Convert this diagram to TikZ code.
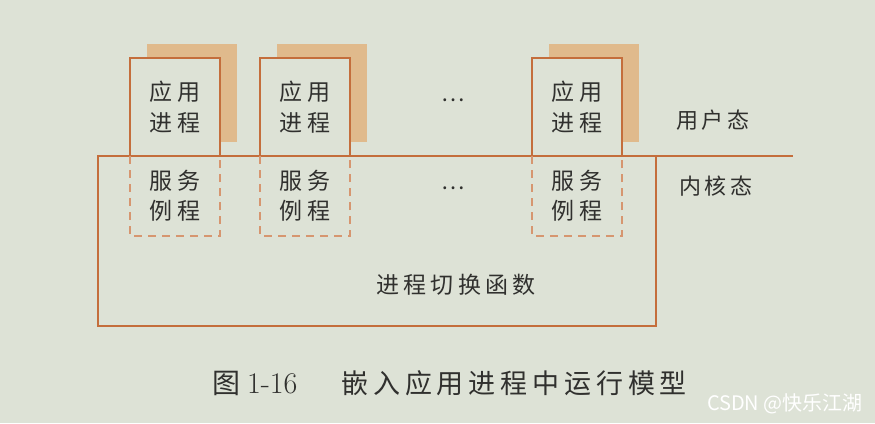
\documentclass[tikz,border=0pt]{standalone}
\usepackage{fontspec}
\newfontfamily\cjk[LetterSpace=18]{Noto Sans CJK SC}
\newfontfamily\cjkplain{Noto Sans CJK SC}
\usepackage{tikz}
\usetikzlibrary{positioning}
\usetikzlibrary{shadows}
\definecolor{paper}{RGB}{221,226,214}
\definecolor{rule}{RGB}{196,110,60}
\definecolor{dashrule}{RGB}{214,150,112}
\definecolor{shade}{RGB}{224,186,140}
\definecolor{ink}{RGB}{48,48,46}

\begin{document}
\begin{tikzpicture}[x=1pt,y=-1pt,outer sep=0pt,
    appbox/.style={draw=rule,line width=1.6pt,fill=paper,minimum width=90pt,minimum height=98pt,
        inner sep=0pt,align=center,text=ink,font=\cjk\fontsize{23}{31}\selectfont,
        drop shadow={shadow xshift=17pt,shadow yshift=14pt,fill=shade,opacity=1}},
    svcbox/.style={minimum width=90pt,minimum height=80pt,inner sep=0pt,align=center,
        text=ink,font=\cjk\fontsize{23}{30}\selectfont},
    dashline/.style={draw=dashrule,line width=1.5pt,dash pattern=on 8pt off 6pt},
    solidline/.style={draw=rule,line width=1.6pt},
    lbl/.style={text=ink,font=\cjk\fontsize{22}{26}\selectfont}]
        % Paper
        \useasboundingbox (0,0) rectangle (875,423);
        \fill[paper] (0,0) rectangle (875,423);

        % Kernel box and the user/kernel boundary
        \node[solidline,minimum width=558pt,minimum height=170pt] (kernel) at (377,241) {};
        \coordinate (lineend) at (793,156);
        \draw[solidline] (kernel.north east) -- (lineend);
        \node[lbl,font=\cjk\fontsize{23}{26}\selectfont] (switch) at (456,285) {进程切换函数};

        % Application processes
        \node[appbox] (app1) at (175,107) {应用\\进程};
        \node[appbox] (app2) at (305,107) {应用\\进程};
        \node[appbox] (app3) at (577,107) {应用\\进程};
        \node[lbl] (dots1) at (453,100) {…};

        % Service routines (dashed)
        \node[svcbox] (svc1) at (175,196) {服务\\例程};
        \node[svcbox] (svc2) at (305,196) {服务\\例程};
        \node[svcbox] (svc3) at (577,196) {服务\\例程};
        \node[lbl] (dots2) at (453,188) {…};
        \draw[dashline] (app1.south west) -- (svc1.south west) -- (svc1.south east) -- (app1.south east);
        \draw[dashline] (app2.south west) -- (svc2.south west) -- (svc2.south east) -- (app2.south east);
        \draw[dashline] (app3.south west) -- (svc3.south west) -- (svc3.south east) -- (app3.south east);

        % Modes
        \node[lbl] (user) at (713,120) {用户态};
        \node[lbl] (kern) at (716,186) {内核态};

        % Caption
        \node[anchor=west,text=ink,inner sep=0pt] (caption) at (212,383)
            {{\cjk\fontsize{28}{30}\selectfont 图}\hspace{7pt}{\fontsize{30}{32}\selectfont 1-16}\hspace{44pt}{\cjk\fontsize{27}{30}\selectfont 嵌入应用进程中运行模型}};
        \node[anchor=west,inner sep=0pt,text=white,font=\cjkplain\fontsize{20}{22}\selectfont] (mark) at (707,404) {CSDN @快乐江湖};
    \end{tikzpicture}
\end{document}
